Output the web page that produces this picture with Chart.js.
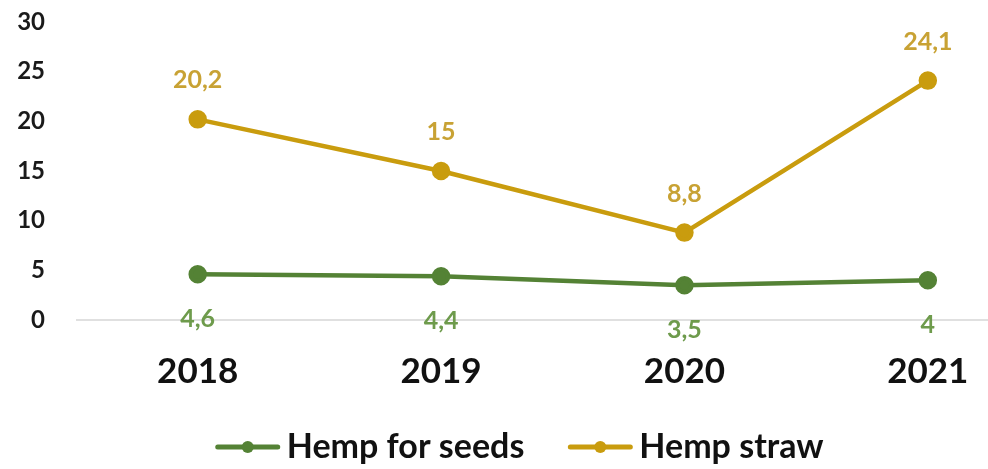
<!DOCTYPE html>
<html>
<head>
<meta charset="utf-8">
<script src="https://cdn.jsdelivr.net/npm/chart.js@4/dist/chart.umd.min.js"></script>
<style>
  html, body { margin: 0; padding: 0; background: #fff; overflow: hidden; }
  #wrap { width: 988px; height: 469px; }
</style>
</head>
<body>
<div id="wrap"><canvas id="hempChart"></canvas></div>
<script>
const anos = [2018, 2019, 2020, 2021];
const sementes = [4.6, 4.4, 3.5, 4];
const palha = [20.2, 15, 8.8, 24.1];
const yTicks = [0, 5, 10, 15, 20, 25, 30];

const VERDE = '#548235';
const OURO = '#C99C0E';

// linha do zero até a borda direita da imagem
const linhaZero = {
    id: 'linhaZero',
    beforeDatasetsDraw(chart) {
        const ctx = chart.ctx;
        const y = chart.scales.y.getPixelForValue(0);
        ctx.save();
        ctx.strokeStyle = '#d6d6d6';
        ctx.lineWidth = 1.5;
        ctx.beginPath(); ctx.moveTo(chart.chartArea.left, y); ctx.lineTo(chart.width, y); ctx.stroke();
        ctx.restore();
    }
};

// rótulos de valor (vírgula decimal)
const rotulos = {
    id: 'rotulos',
    afterDatasetsDraw(chart) {
        const ctx = chart.ctx;
        ctx.save();
        ctx.font = 'bold 25px Lato';
        ctx.textAlign = 'center';
        ctx.textBaseline = 'middle';
        chart.data.datasets.forEach((ds, i) => {
            const meta = chart.getDatasetMeta(i);
            ctx.fillStyle = ds.rotuloCor;
            meta.data.forEach((pt, j) => {
                const v = String(ds.data[j].y).replace('.', ',');
                ctx.fillText(v, pt.x, pt.y + ds.rotuloDesvio);
            });
        });
        ctx.restore();
    }
};

// legenda desenhada à mão: linha + ponto, texto logo ao lado
const legenda = {
    id: 'legenda',
    afterDraw(chart) {
        const ctx = chart.ctx;
        const ds = chart.data.datasets;
        ctx.save();
        ctx.font = 'bold 34px Lato';
        ctx.textBaseline = 'middle';
        const larguraMarca = 64, folga = 7, entre = 44;
        const larguras = ds.map(d => larguraMarca + folga + ctx.measureText(d.label).width);
        const total = larguras.reduce((a, b) => a + b, 0) + entre * (ds.length - 1);
        let x = chart.width * 0.526 - total / 2;
        const y = chart.height - 22;
        ds.forEach((d, i) => {
            ctx.strokeStyle = d.borderColor;
            ctx.fillStyle = d.borderColor;
            ctx.lineWidth = 5;
            ctx.lineCap = 'round';
            ctx.beginPath(); ctx.moveTo(x + 2, y); ctx.lineTo(x + larguraMarca - 2, y); ctx.stroke();
            ctx.beginPath(); ctx.arc(x + larguraMarca / 2, y, 6, 0, Math.PI * 2); ctx.fill();
            ctx.fillStyle = '#111';
            ctx.fillText(d.label, x + larguraMarca + folga, y);
            x += larguras[i] + entre;
        });
        ctx.restore();
    }
};

new Chart(document.getElementById('hempChart'), {
    type: 'line',
    plugins: [linhaZero, rotulos, legenda],
    data: {
        datasets: [{
            label: 'Hemp for seeds',
            data: anos.map((a, i) => ({ x: a, y: sementes[i] })),
            borderColor: VERDE,
            backgroundColor: VERDE,
            borderWidth: 4.5,
            pointRadius: 7,
            pointHoverRadius: 7,
            rotuloCor: '#6E9B4C',
            rotuloDesvio: 45
        }, {
            label: 'Hemp straw',
            data: anos.map((a, i) => ({ x: a, y: palha[i] })),
            borderColor: OURO,
            backgroundColor: OURO,
            borderWidth: 4.5,
            pointRadius: 7,
            pointHoverRadius: 7,
            rotuloCor: '#C8A234',
            rotuloDesvio: -39
        }]
    },
    options: {
        responsive: true,
        maintainAspectRatio: false,
        animation: false,
        layout: { padding: { top: 22, right: 0, left: 0, bottom: 79 } },
        plugins: {
            tooltip: { enabled: false },
            legend: { display: false }
        },
        scales: {
            x: {
                type: 'linear',
                min: 2017.5,
                max: 2021.2,
                afterFit: s => { s.height = 70; s.paddingLeft = 0; s.paddingRight = 0; },
                afterBuildTicks: s => { s.ticks = anos.map(a => ({ value: a })); },
                ticks: {
                    color: '#111',
                    padding: 23,
                    font: { family: 'Lato', weight: 'bold', size: 35 },
                    callback: v => String(v)
                },
                grid: { display: false },
                border: { display: false }
            },
            y: {
                min: 0,
                max: 30,
                afterFit: s => { s.width = 76; s.paddingTop = 0; s.paddingBottom = 0; },
                afterBuildTicks: s => { s.ticks = yTicks.map(v => ({ value: v })); },
                ticks: {
                    color: '#1a1a1a',
                    padding: 23,
                    font: { family: 'Lato', weight: 'bold', size: 24 }
                },
                grid: { display: false },
                border: { display: false }
            }
        }
    }
});
</script>
</body>
</html>
